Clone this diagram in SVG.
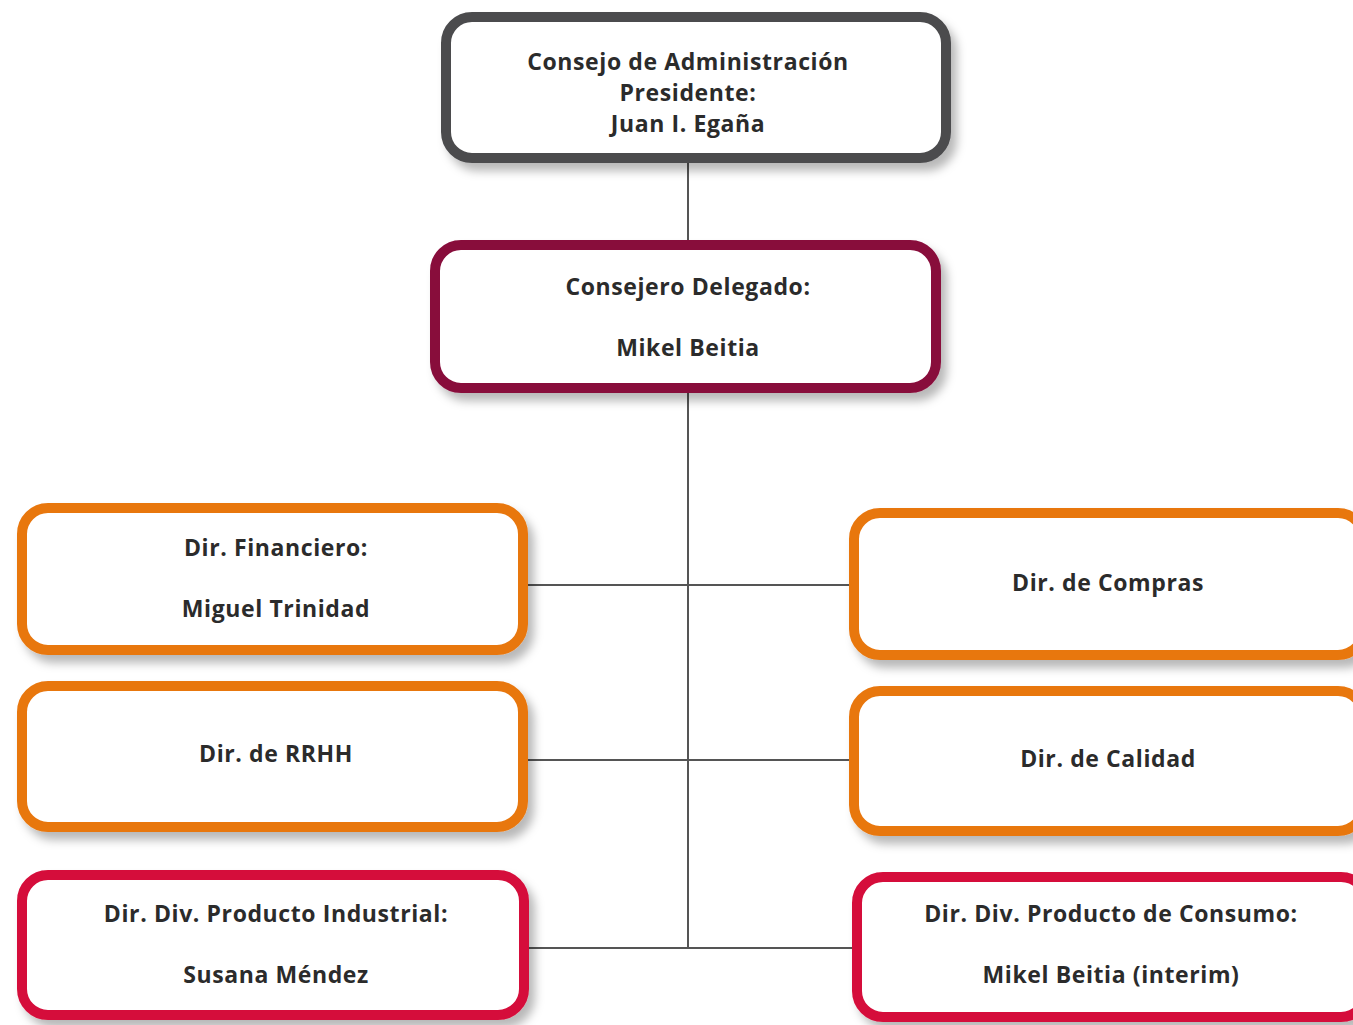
<svg xmlns="http://www.w3.org/2000/svg" width="1353" height="1025" viewBox="0 0 1353 1025">
<defs>
<filter id="sh" x="-10%" y="-10%" width="125%" height="140%">
<feDropShadow dx="6" dy="8" stdDeviation="5" flood-color="#000" flood-opacity="0.28"/>
</filter>
<style>
.box{fill:#fff;stroke-width:10;filter:url(#sh)}
.gray{stroke:#4b4b4d}
.maroon{stroke:#880b3b}
.orange{stroke:#e8770f}
.red{stroke:#d50c3a}
.t{font-family:"Open Sans","Noto Sans","Liberation Sans",sans-serif;font-weight:bold;font-size:23px;letter-spacing:0.6px;fill:#2b2b2b;text-anchor:middle}
.ln{stroke:#555;stroke-width:2;fill:none}
</style>
</defs>
<rect width="1353" height="1025" fill="#fff"/>
<g id="connectors">
<line class="ln" x1="688" y1="160" x2="688" y2="244"/>
<line class="ln" x1="688" y1="390" x2="688" y2="948"/>
<line class="ln" x1="526" y1="585" x2="852" y2="585"/>
<line class="ln" x1="526" y1="760" x2="852" y2="760"/>
<line class="ln" x1="526" y1="948" x2="856" y2="948"/>
</g>
<g id="consejo">
<rect class="box gray" x="446" y="17" width="500" height="141" rx="26"/>
<text class="t" x="688" y="70">Consejo de Administración</text>
<text class="t" x="688" y="101">Presidente:</text>
<text class="t" x="688" y="132">Juan I. Egaña</text>
</g>
<g id="delegado">
<rect class="box maroon" x="435" y="245" width="501" height="143" rx="26"/>
<text class="t" x="688" y="295">Consejero Delegado:</text>
<text class="t" x="688" y="356">Mikel Beitia</text>
</g>
<g id="financiero">
<rect class="box orange" x="22" y="508" width="501" height="142" rx="26"/>
<text class="t" x="276" y="556">Dir. Financiero:</text>
<text class="t" x="276" y="617">Miguel Trinidad</text>
</g>
<g id="compras">
<rect class="box orange" x="854" y="513" width="510" height="142" rx="26"/>
<text class="t" x="1108" y="591">Dir. de Compras</text>
</g>
<g id="rrhh">
<rect class="box orange" x="22" y="686" width="501" height="141" rx="26"/>
<text class="t" x="276" y="762">Dir. de RRHH</text>
</g>
<g id="calidad">
<rect class="box orange" x="854" y="691" width="510" height="140" rx="26"/>
<text class="t" x="1108" y="767">Dir. de Calidad</text>
</g>
<g id="industrial">
<rect class="box red" x="22" y="875" width="502" height="140" rx="26"/>
<text class="t" x="276" y="922">Dir. Div. Producto Industrial:</text>
<text class="t" x="276" y="983">Susana Méndez</text>
</g>
<g id="consumo">
<rect class="box red" x="857" y="877" width="510" height="140" rx="26"/>
<text class="t" x="1111" y="922">Dir. Div. Producto de Consumo:</text>
<text class="t" x="1111" y="983">Mikel Beitia (interim)</text>
</g>
</svg>
